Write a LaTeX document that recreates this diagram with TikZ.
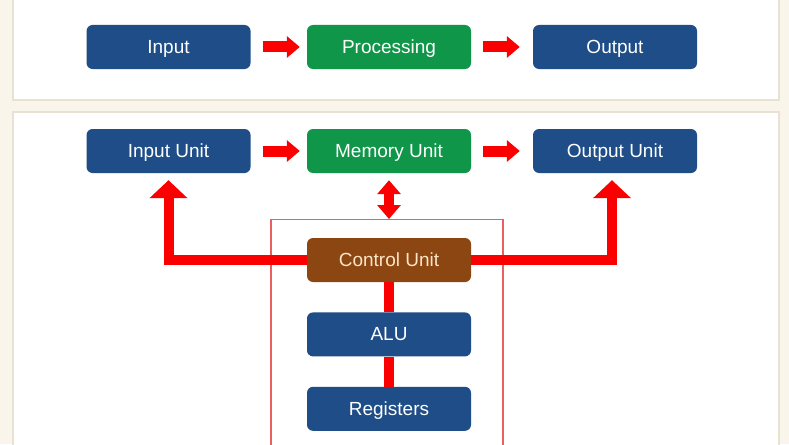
\documentclass[tikz,border=0pt]{standalone}
\usepackage{fontspec}
\setmainfont{Liberation Sans}
\usetikzlibrary{arrows.meta,positioning}
\definecolor{boxblue}{RGB}{31,77,135}
\definecolor{boxgreen}{RGB}{16,150,72}
\definecolor{boxbrown}{RGB}{140,70,18}
\definecolor{cream}{RGB}{249,245,234}
\definecolor{rim}{RGB}{232,226,210}
\definecolor{flowred}{RGB}{250,0,0}
\definecolor{framered}{RGB}{232,96,96}
\definecolor{peach}{RGB}{252,228,198}
\tikzset{x=1pt, y=-1pt}
\tikzset{
 unit/.style={rounded corners=6, minimum width=164, minimum height=44, inner sep=0,
   text height=13pt, text depth=0pt, text=white, font=\fontsize{19}{19}\selectfont},
 ubox/.style={unit, fill=boxblue},
 gbox/.style={unit, fill=boxgreen},
 bbox/.style={unit, fill=boxbrown, text=peach},
 bus/.style={draw=flowred, line width=10},
 flow/.style={bus, line width=11, -{Triangle[width=21pt,length=13pt]}, shorten <=12pt},
 cpuframe/.style={draw=framered, line width=1.2, minimum width=232, minimum height=260}
}

\begin{document}
\begin{tikzpicture}
 \clip (0,0) rectangle (789,444);
 \fill[cream] (0,0) rectangle (789,444);
 \draw[rim, fill=white, line width=1.5] (13,-10) rectangle (779,100); % upper panel
 \draw[rim, fill=white, line width=1.5] (13,112) rectangle (779,470); % lower panel

 % upper row
 \node[ubox] (in) at (168.5,47) {Input};
 \node[gbox] (proc) at (389,47) {Processing};
 \node[ubox] (out) at (615,47) {Output};

 % lower part
 \node[cpuframe, anchor=north] (cpu) at (387,219) {};
 \node[ubox] (inu) at (168.5,151) {Input Unit};
 \node[gbox] (mem) at (389,151) {Memory Unit};
 \node[ubox] (outu) at (615,151) {Output Unit};
 \node[bbox] (cu) at (389,260) {Control Unit};
 \node[ubox, below=30pt of cu] (alu) {ALU};
 \node[ubox, below=30pt of alu] (reg) {Registers};

 \foreach \a/\b/\s in {in/proc/7, proc/out/13, inu/mem/7, mem/outu/13}
 \draw[flow, shorten >=\s pt] (\a) -- (\b);

 \draw[bus, {Triangle[width=23pt,length=14pt]}-{Triangle[width=23pt,length=14pt]}, shorten <=7pt]
   (mem.south) -- (mem.south |- cpu.north);
 \draw[bus, -{Triangle[width=37pt,length=18pt]}, shorten >=7pt] (cu.west) -| (inu.south);
 \draw[bus, -{Triangle[width=37pt,length=18pt]}, shorten >=7pt] (cu.east) -| ([xshift=-3pt]outu.south);
 \draw[bus] (cu) -- (alu);
 \draw[bus] (alu) -- (reg);
\end{tikzpicture}
\end{document}
